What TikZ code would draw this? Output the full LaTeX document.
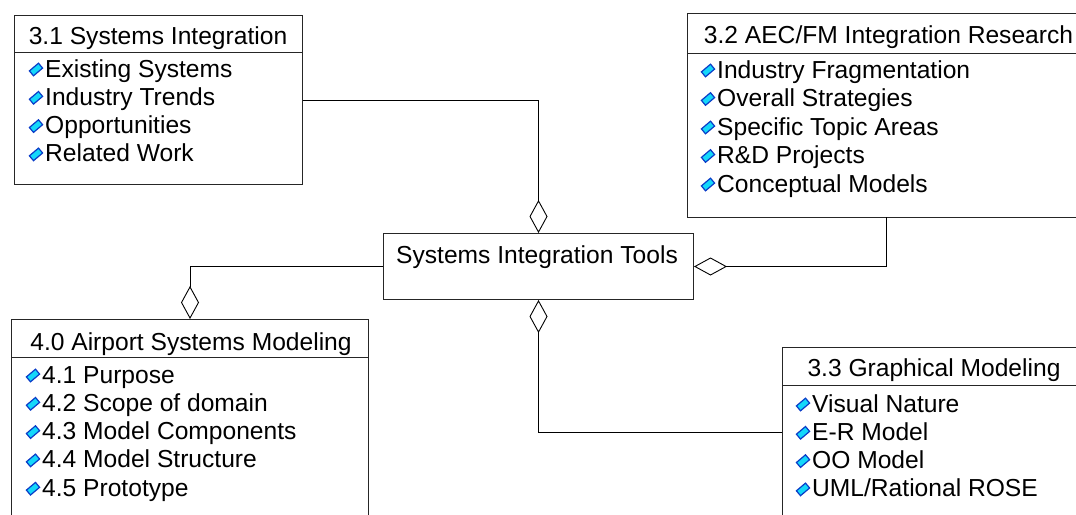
\documentclass[tikz,border=0pt]{standalone}
\usepackage{fontspec}
\setmainfont{Liberation Sans}
\usetikzlibrary{arrows.meta}
\definecolor{bulfill}{RGB}{20,215,250}
\definecolor{bulline}{RGB}{10,60,200}
\newcommand\itm[4]{\pic at ({#2-9},{#3-7.5}) {bul}; \node[txt] (#1) at (#2,#3) {#4};}
\begin{document}
\begin{tikzpicture}[x=1pt,y=-1pt,
  box/.style={draw=black!85, line width=1pt, rectangle, inner sep=0pt, anchor=north west},
  txt/.style={anchor=base west, inner sep=0pt, font=\fontsize{24.6}{29}\selectfont},
  ttl/.style={anchor=base, inner sep=0pt, font=\fontsize{24.6}{29}\selectfont},
  sep/.style={draw=black!85, line width=1pt},
  agg/.style={draw=black, line width=0.9pt, -{Diamond[open,length=33pt,width=18pt,line width=0.9pt]}},
  bul/.pic={\filldraw[fill=bulfill, draw=bulline, line width=1.2pt] (6.6,-1.4)--(2.5,-6.3)--(-6.6,1.4)--(-2.5,6.3)--cycle;}
]
\useasboundingbox (0,0) rectangle (1076,514);
\clip (0,0) rectangle (1076,514);
\fill[white] (0,0) rectangle (1076,514);

% boxes
\node[box, minimum width=288pt, minimum height=169pt] (s31) at (14,15) {};
\node[box, minimum width=404pt, minimum height=204pt] (s32) at (687,13) {};
\node[box, minimum width=310pt, minimum height=66pt] (tools) at (383,233) {};
\node[box, minimum width=357pt, minimum height=230pt] (s40) at (11,319) {};
\node[box, minimum width=304pt, minimum height=200pt] (s33) at (782,347) {};

% separators
\draw[sep] (s31.west |- 0,52) -- (s31.east |- 0,52);
\draw[sep] (s32.west |- 0,53) -- (s32.east |- 0,53);
\draw[sep] (s40.west |- 0,357) -- (s40.east |- 0,357);
\draw[sep] (s33.west |- 0,385) -- (s33.east |- 0,385);

% titles
\node[ttl] (t31) at (158,44) {3.1 Systems Integration};
\node[ttl] (t32) at (888.5,43) {3.2 AEC/FM Integration Research};
\node[ttl] (t40) at (191,350) {4.0 Airport Systems Modeling};
\node[ttl] (t33) at (934,376) {3.3 Graphical Modeling};
\node[ttl] (ttools) at (537,263) {Systems Integration Tools};

% items 3.1
\itm{a1}{45}{77}{Existing Systems}
\itm{a2}{45}{105.3}{Industry Trends}
\itm{a3}{45}{133.6}{Opportunities}
\itm{a4}{45}{161.9}{Related Work}
% items 3.2
\itm{b1}{717}{78}{Industry Fragmentation}
\itm{b2}{717}{106.5}{Overall Strategies}
\itm{b3}{717}{135}{Specific Topic Areas}
\itm{b4}{717}{163.5}{R\&D Projects}
\itm{b5}{717}{192}{Conceptual Models}
% items 4.0
\itm{c1}{42}{383}{4.1 Purpose}
\itm{c2}{42}{411.3}{4.2 Scope of domain}
\itm{c3}{42}{439.6}{4.3 Model Components}
\itm{c4}{42}{467.9}{4.4 Model Structure}
\itm{c5}{42}{496.2}{4.5 Prototype}
% items 3.3
\itm{d1}{812}{412}{Visual Nature}
\itm{d2}{812}{440.3}{E-R Model}
\itm{d3}{812}{468.6}{OO Model}
\itm{d4}{812}{496.9}{UML/Rational ROSE}

% connectors
\coordinate (j32) at (886,217);
\coordinate (j33) at (782,432);
\draw[agg] (s31.east) -| (tools.north);
\draw[agg] (j32) |- (tools.east);
\draw[agg] (tools.west) -| (s40.north);
\draw[agg] (j33) -| (tools.south);
\end{tikzpicture}
\end{document}
